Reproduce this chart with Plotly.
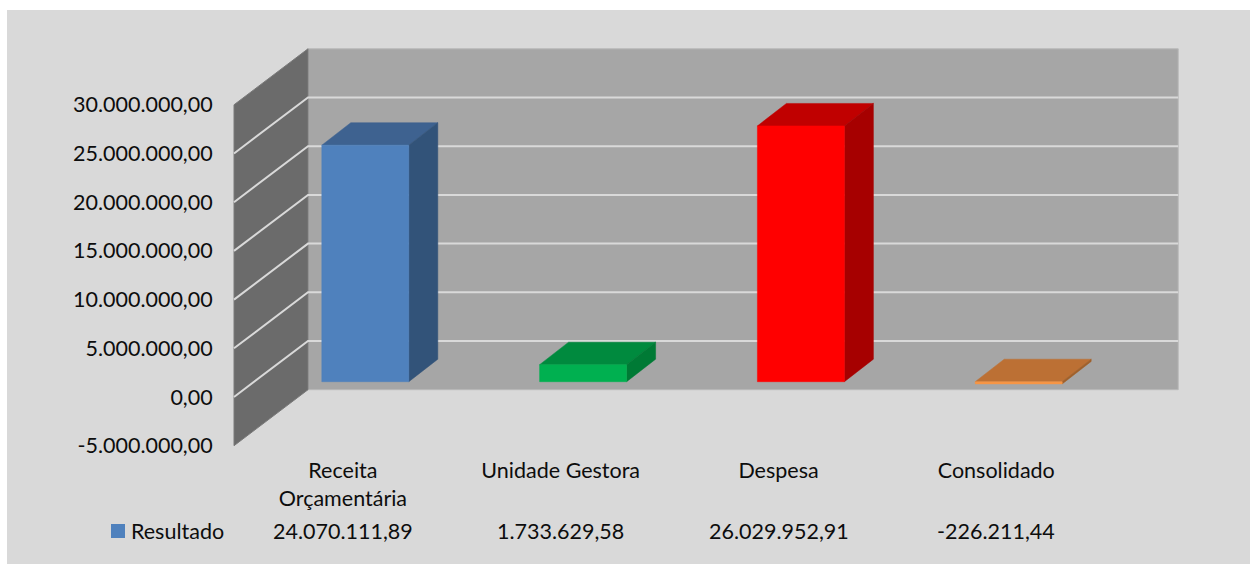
import plotly.graph_objects as go

# ---- data ----
CATEGORIES = ["Receita<br>Orçamentária", "Unidade Gestora", "Despesa", "Consolidado"]
SERIES_NAME = "Resultado"
RESULTADO = [24070111.89, 1733629.58, 26029952.91, -226211.44]
Y_TICKS = [-5000000, 0, 5000000, 10000000, 15000000, 20000000, 25000000, 30000000]
Y_LABELS = ["-5.000.000,00", "0,00", "5.000.000,00", "10.000.000,00", "15.000.000,00",
            "20.000.000,00", "25.000.000,00", "30.000.000,00"]
RESULT_LABELS = ["24.070.111,89", "1.733.629,58", "26.029.952,91", "-226.211,44"]
FRONT_COLORS = ["#4f81bd", "#00b050", "#ff0000", "#f79646"]
TOP_COLORS = ["#3e6290", "#008a3e", "#c00000", "#bc7034"]
SIDE_COLORS = ["#325379", "#007a35", "#a60000", "#a0602a"]

# ---- canvas and projection settings ----
W, H = 1250, 564
LEFT, TOP = 7, 10
CAT_PX = 217.8
CAT0_PX = 365.3
BAR_PX_PER_UNIT = 9.826e-6
WALL_PX_PER_UNIT = 9.74e-6
BAR_BASE_PX = 381.7
WALL_ZERO_PX = 397.0
BAR_WIDTH = 87 / CAT_PX
BAR_DEPTH_X = 29 / CAT_PX
BAR_DEPTH_Y = 22.5 / BAR_PX_PER_UNIT
WALL_FRONT_X = (234 - (CAT0_PX - CAT_PX / 2)) / CAT_PX - 0.5
WALL_DEPTH_X = 74 / CAT_PX
WALL_DEPTH_Y = 56 / WALL_PX_PER_UNIT
WALL_RIGHT = WALL_FRONT_X + (1178.2 - 74 - 234) / CAT_PX
LABEL_SHIFT = WALL_FRONT_X + 0.5

x_range = [(LEFT - CAT0_PX) / CAT_PX, (W - CAT0_PX) / CAT_PX]
wall_range = [(WALL_ZERO_PX - H) / WALL_PX_PER_UNIT, (WALL_ZERO_PX - TOP) / WALL_PX_PER_UNIT]
bar_range = [(BAR_BASE_PX - H) / BAR_PX_PER_UNIT, (BAR_BASE_PX - TOP) / BAR_PX_PER_UNIT]

fig = go.Figure()


def poly(xs, ys, fill, axis="y", line=None):
    fig.add_trace(go.Scatter(
        x=xs + xs[:1], y=ys + ys[:1], mode="lines", fill="toself", fillcolor=fill,
        line=dict(color=line or fill, width=1 if line else 0.5), yaxis=axis, showlegend=False, hoverinfo="skip"))


y_min, y_max = Y_TICKS[0], Y_TICKS[-1]
xf, xb = WALL_FRONT_X, WALL_FRONT_X + WALL_DEPTH_X
# back wall
poly([xb, WALL_RIGHT + WALL_DEPTH_X, WALL_RIGHT + WALL_DEPTH_X, xb],
     [y_min + WALL_DEPTH_Y, y_min + WALL_DEPTH_Y, y_max + WALL_DEPTH_Y, y_max + WALL_DEPTH_Y],
     "#a6a6a6", line="#b8b8b8")
# side wall
poly([xf, xb, xb, xf],
     [y_min, y_min + WALL_DEPTH_Y, y_max + WALL_DEPTH_Y, y_max],
     "#6b6b6b", line="#7a7a7a")
# gridlines, running along the side wall and then the back wall
grid_x, grid_y = [], []
for t in Y_TICKS[1:-1]:
    grid_x += [xf, xb, WALL_RIGHT + WALL_DEPTH_X, None]
    grid_y += [t, t + WALL_DEPTH_Y, t + WALL_DEPTH_Y, None]
fig.add_trace(go.Scatter(x=grid_x, y=grid_y, mode="lines", line=dict(color="#d9d9d9", width=2),
                         showlegend=False, hoverinfo="skip"))

# bars
for i, v in enumerate(RESULTADO):
    l, r = i - BAR_WIDTH / 2, i + BAR_WIDTH / 2
    t = max(v, 0)
    b = min(v, 0)
    # top
    poly([l, r, r + BAR_DEPTH_X, l + BAR_DEPTH_X], [t, t, t + BAR_DEPTH_Y, t + BAR_DEPTH_Y],
         TOP_COLORS[i], axis="y2")
    # side
    poly([r, r + BAR_DEPTH_X, r + BAR_DEPTH_X, r], [b, b + BAR_DEPTH_Y, t + BAR_DEPTH_Y, t],
         SIDE_COLORS[i], axis="y2")
    # front
    poly([l, r, r, l], [b, b, t, t], FRONT_COLORS[i], axis="y2")

FONT = dict(family="Lato, Carlito, sans-serif", size=21.5, color="#0d0d0d")
ROW_Y = (H - 530.5) / (H - TOP)

# legend key of the data table
fig.add_trace(go.Scatter(
    x=[(118 - CAT0_PX) / CAT_PX], y=[(BAR_BASE_PX - 531) / BAR_PX_PER_UNIT], yaxis="y2",
    mode="markers", name=SERIES_NAME,
    marker=dict(symbol="square", size=14, color=FRONT_COLORS[0], line=dict(width=0)),
    showlegend=False, hoverinfo="skip"))

annotations = [
    dict(x=i + LABEL_SHIFT, xref="x", y=ROW_Y, yref="paper", text=s, showarrow=False,
         xanchor="center", yanchor="middle", font=FONT)
    for i, s in enumerate(RESULT_LABELS)
]
annotations.append(dict(x=(131 - CAT0_PX) / CAT_PX, xref="x", y=ROW_Y, yref="paper", text=SERIES_NAME,
                        showarrow=False, xanchor="left", yanchor="middle", font=FONT,
                        borderpad=0, borderwidth=0))

fig.update_layout(
    width=W, height=H, showlegend=False,
    margin=dict(l=LEFT, r=0, t=TOP, b=0, pad=0, autoexpand=False),
    paper_bgcolor="white", plot_bgcolor="#d9d9d9",
    font=FONT, annotations=annotations, hovermode=False,
    xaxis=dict(range=x_range, tickmode="array", tickvals=[i + LABEL_SHIFT for i in range(len(CATEGORIES))],
               ticktext=CATEGORIES,
               showgrid=False, zeroline=False, showline=False, ticks="outside", ticklen=1,
               tickcolor="rgba(0,0,0,0)", anchor="free", position=(H - 450.5) / (H - TOP), tickfont=FONT,
               ticklabelposition="outside", automargin=False, fixedrange=True),
    yaxis=dict(range=wall_range, tickmode="array", tickvals=Y_TICKS, ticktext=Y_LABELS,
               showgrid=False, zeroline=False, showline=False, ticks="outside", ticklen=17,
               tickcolor="rgba(0,0,0,0)", anchor="free", position=(234 - LEFT) / (W - LEFT), tickfont=FONT,
               automargin=False, fixedrange=True),
    yaxis2=dict(range=bar_range, overlaying="y", visible=False, fixedrange=True),
)

fig.write_html("out.html", config=dict(displayModeBar=False),
               post_script="document.body.style.margin='0';document.documentElement.style.overflow='hidden';")
